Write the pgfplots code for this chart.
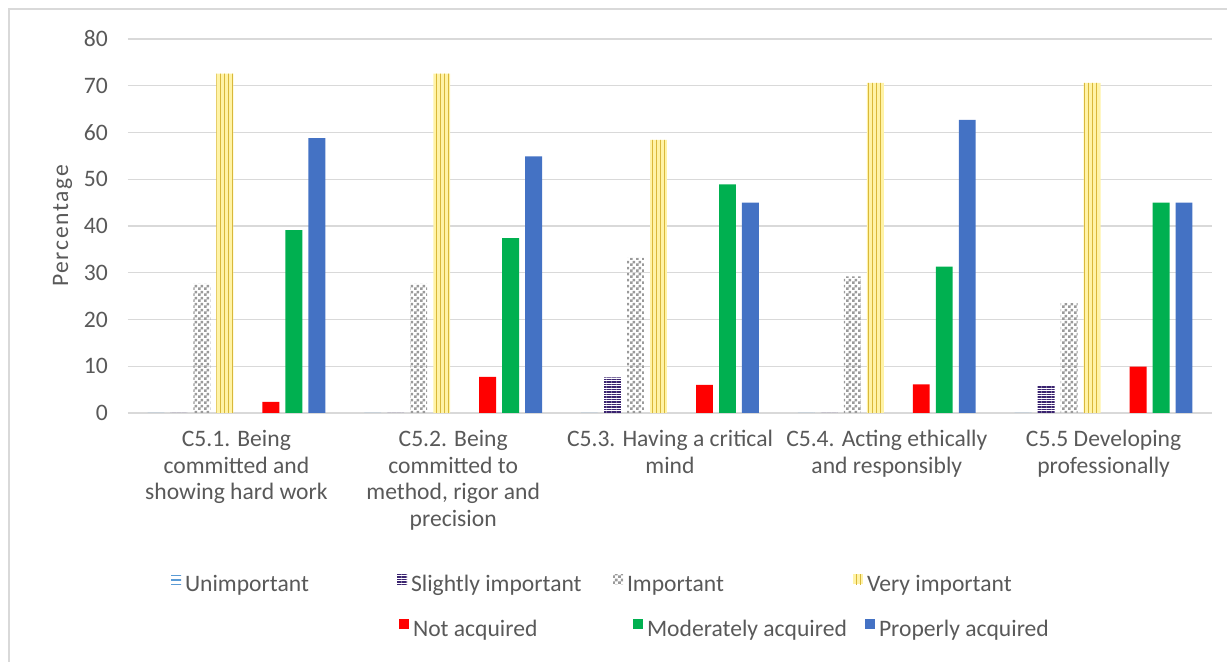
\documentclass[border=0pt]{standalone}
\usepackage{fontspec}
\setmainfont{Carlito}
\usepackage{pgfplots}
\usepackage{pgfplotstable}
\pgfplotsset{compat=1.18}
\usetikzlibrary{patterns,patterns.meta}

\definecolor{txtgray}{HTML}{595959}
\definecolor{gridgray}{HTML}{D9D9D9}
\definecolor{unimpblue}{HTML}{5B9BD5}
\definecolor{slightpurple}{HTML}{3B2470}
\definecolor{impgray}{HTML}{9A9A9A}
\definecolor{veryfill}{HTML}{FFF3A6}
\definecolor{veryline}{HTML}{D9B83A}
\definecolor{notred}{HTML}{FF0000}
\definecolor{modgreen}{HTML}{00B050}
\definecolor{propblue}{HTML}{4472C4}

% fine checkerboard for "Important"
\pgfdeclarepatternformonly{finecheck}{\pgfqpoint{0pt}{0pt}}{\pgfqpoint{3pt}{3pt}}{\pgfqpoint{3pt}{3pt}}{%
  \pgfpathrectangle{\pgfqpoint{0pt}{0pt}}{\pgfqpoint{1.5pt}{1.5pt}}%
  \pgfpathrectangle{\pgfqpoint{1.5pt}{1.5pt}}{\pgfqpoint{1.5pt}{1.5pt}}%
  \pgfusepath{fill}}

\pgfplotstableread{
x unimp slight imp very notacq moder proper
0 0 0   27.6 72.6 2.4  39.1 58.8
1 0 0   27.6 72.6 7.7  37.4 54.9
2 0 7.6 33.2 58.4 6.0  48.9 45.0
3 0 0   29.2 70.6 6.1  31.3 62.7
4 0 5.8 23.5 70.6 9.9  45.0 45.0
}\datatable

\pgfplotsset{
  frame/.style={
    at={(64pt,124.5pt)}, anchor=south west,
    scale only axis,
    width=542pt, height=187pt,
    xmin=-0.5, xmax=4.5,
    ymin=0, ymax=80,
  },
  sq legend/.style={
    legend image code/.code={\draw[##1, draw=none] (0pt,0.3pt) rectangle (5pt,5.3pt);}},
  leg/.style={
    legend columns=-1,
    legend cell align=left,
    legend style={draw=none, fill=none, anchor=west,
      inner sep=0pt, outer sep=0pt,
      font=\fontsize{11.8}{13}\selectfont, text=txtgray,
      nodes={inner xsep=2pt, inner ysep=1pt},
      /tikz/every odd column/.append style={column sep=0pt},
      /tikz/every even column/.append style={column sep=0pt}},
    sq legend,
  },
}

\begin{document}
\begin{tikzpicture}
\useasboundingbox (0,0) rectangle (613.5pt,331pt);
\draw[gridgray, line width=0.8pt] (4.5pt,0) -- (4.5pt,326.5pt) -- (613.5pt,326.5pt);
\begin{axis}[
    frame,
    ybar,
    bar width=0.078,
    leg,
    every axis plot post/.append style={sq legend},
    ytick={0,10,...,80},
    xtick={0,1,2,3,4},
    xticklabels={
      {C5.1. Being\\committed and\\showing hard work},
      {C5.2. Being\\committed to\\method, rigor and\\precision},
      {C5.3. Having a critical\\mind},
      {C5.4. Acting ethically\\and responsibly},
      {C5.5 Developing\\professionally}},
    major tick length=0pt,
    axis line style={draw=none},
    ymajorgrids,
    grid style={gridgray, line width=0.6pt},
    /pgf/number format/assume math mode=true,
    tick label style={font=\fontsize{11.8}{13.4}\selectfont, text=txtgray},
    xticklabel style={align=center, yshift=-5pt},
    yticklabel style={xshift=-6.6pt},
    ylabel={\addfontfeature{LetterSpace=7}Percentage},
    ylabel style={font=\fontsize{11.8}{13}\selectfont, text=txtgray,
      at={(ticklabel cs:0.5)}, yshift=-1pt},
    legend style={at={(0.0397,-0.46)}},
  ]
  \addplot[draw=none, pattern={Lines[angle=0, distance=2.4pt, line width=0.9pt]}, pattern color=unimpblue, bar shift=-0.371]
    table[x=x, y=unimp] {\datatable};
  \addlegendentry{\makebox[104pt][l]{Unimportant}}
  \addplot[draw=none, pattern={Lines[angle=0, distance=1.25pt, line width=0.6pt]}, pattern color=slightpurple, bar shift=-0.265]
    table[x=x, y=slight] {\datatable};
  \addlegendentry{\makebox[99pt][l]{Slightly important}}
  \addplot[draw=none, pattern=finecheck, pattern color=impgray, bar shift=-0.159]
    table[x=x, y=imp] {\datatable};
  \addlegendentry{\makebox[111pt][l]{Important}}
  \addplot[draw=none, fill=veryfill, postaction={pattern={Lines[angle=90, distance=2pt, line width=0.5pt]}, pattern color=veryline}, bar shift=-0.053]
    table[x=x, y=very] {\datatable};
  \addlegendentry{Very important}
  \addplot[draw=none, fill=notred, bar shift=0.159]
    table[x=x, y=notacq] {\datatable};
  \addplot[draw=none, fill=modgreen, bar shift=0.265]
    table[x=x, y=moder] {\datatable};
  \addplot[draw=none, fill=propblue, bar shift=0.371]
    table[x=x, y=proper] {\datatable};
\end{axis}
% second row of the legend
\begin{axis}[
    frame, leg,
    hide axis,
    legend style={at={(0.25,-0.58)}},
  ]
  \addlegendimage{fill=notred}
  \addlegendentry{\makebox[108pt][l]{Not acquired}}
  \addlegendimage{fill=modgreen}
  \addlegendentry{\makebox[107pt][l]{Moderately acquired}}
  \addlegendimage{fill=propblue}
  \addlegendentry{Properly acquired}
\end{axis}
\end{tikzpicture}
\end{document}
